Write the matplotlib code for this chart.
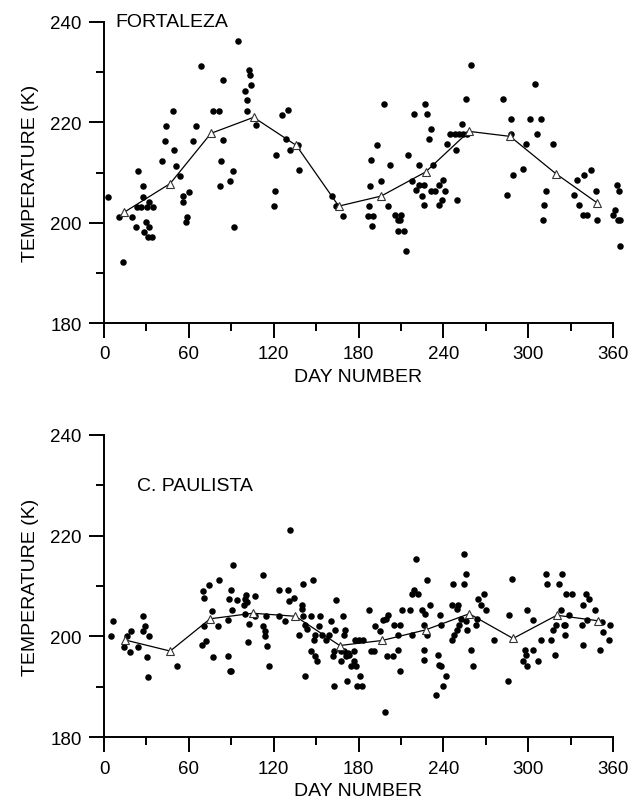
import numpy as np
import matplotlib
matplotlib.use('Agg')
import matplotlib.pyplot as plt

plt.rcParams['font.family'] = ['Liberation Sans', 'DejaVu Sans']

# Fortaleza - individual nights
fort_day = [2.6, 10.9, 13.7, 19.6, 22.7, 23.8, 27.4, 27.4, 26, 23.1, 30.2, 32.1, 34.9, 29.5, 31.9, 28.3, 30.9, 34.2,
            40.8, 43.0, 43.9, 48.9, 49.6, 50.8, 53.8, 55.7, 56.2, 60.2, 59.0, 57.9, 62.8, 65.2, 68.9,
            77.4, 81, 84.1, 84.1, 82.9, 82.2, 90.9, 89, 92.1, 94.9, 99.9, 101.1, 102.2, 103, 103.9, 101.1, 107.7,
            121.8, 120.7, 120, 125.9, 129.9, 128.9, 131.8, 137.2, 138.1,
            161.3, 164.3, 169, 197.9, 193.1, 188.9, 202.6, 196, 187.9, 187.3, 201, 186.5, 190.3, 189.6,
            206.1, 210.1, 207.7, 209.6, 207.9, 212, 213.9, 214.9, 219.1, 226.9, 228.1, 230.9, 229.8, 222.9,
            217.9, 232.6, 220.9, 222.6, 226.2, 225.2, 226.2, 230.9, 234, 236.9, 240, 241.1, 239.3, 236.9,
            242.7, 249.1, 249.8, 245, 248, 251, 254, 256.5, 253, 256.1, 259.4,
            282.2, 287.6, 285.3, 287.6, 289.5, 296.3, 298.2, 301.3, 304.6, 306.5, 308.9, 312.4, 311.2, 310.5,
            317.3, 332.4, 334.3, 335.9, 338.4, 341.9, 339.5, 344.3, 347.8, 348.5,
            362.7, 364.5, 361.1, 359.9, 363.4, 365, 365]
fort_temp = [205.1, 201.1, 192.1, 201.1, 199.2, 210.2, 207.3, 205.1, 203.1, 203.1, 203.1, 204.1, 203.1, 200.1, 199.2, 198.2, 197.1, 197.1,
             212.2, 216.3, 219.3, 222.3, 214.4, 211.3, 209.3, 205.3, 204.1, 206.2, 201.2, 200.1, 216.3, 219.3, 231.3,
             222.3, 222.3, 228.4, 216.4, 212.3, 207.3, 210.3, 208.3, 199.2, 236.3, 226.3, 224.4, 230.4, 229.4, 227.4, 222.3, 219.4,
             213.4, 206.3, 203.3, 221.4, 222.4, 216.6, 214.5, 215.4, 210.4,
             205.3, 203.3, 201.3, 223.6, 215.5, 212.5, 211.5, 208.4, 207.4, 203.3, 203.3, 201.3, 201.3, 199.4,
             201.5, 201.5, 200.5, 200.5, 198.4, 198.4, 194.4, 213.5, 221.7, 223.7, 221.6, 218.6, 216.6, 211.5,
             208.4, 211.5, 206.5, 207.5, 207.5, 205.4, 203.5, 206.4, 206.4, 207.5, 208.5, 206.4, 204.5, 203.5,
             215.6, 214.5, 204.5, 217.6, 217.6, 217.6, 217.6, 217.6, 219.6, 224.7, 231.5,
             224.7, 220.7, 205.5, 217.6, 209.5, 210.6, 215.6, 220.7, 227.6, 217.6, 220.7, 206.4, 203.5, 200.5,
             215.6, 205.5, 208.5, 203.5, 201.5, 201.5, 209.5, 210.5, 206.4, 200.5,
             207.5, 206.4, 202.5, 201.5, 200.5, 200.5, 195.4]

# Fortaleza - monthly means
fort_mday = [14.4, 46.8, 75.6, 105.8, 136, 166, 196, 227.4, 258.1, 287.2, 319.4, 349]
fort_mtemp = [202.1, 207.8, 217.8, 221.0, 215.4, 203.3, 205.3, 210.1, 218.2, 217.2, 209.8, 203.9]

# Cachoeira Paulista - individual nights
cp_day = [6.1, 5.0, 16.1, 19.1, 14.2, 18.4, 24.3, 27.9, 29.0, 27.4, 32.1, 30.2, 31.4, 51.5,
          69.9, 73.9, 81.0, 76.3, 70.4, 80.3, 69.2, 72.3, 77.4, 87.6, 88.8, 70.8,
          131.3, 90.9, 112.4, 147.6, 140.7, 90.0, 123.5, 130.1, 88.6, 94.0, 99.4, 100.4, 106.5, 134.6, 130.6,
          98.7, 100.8, 139.7, 90.4, 139.7, 164.3, 87.6, 99.9, 106.9, 114.5, 123.5, 128.2, 140.4, 146.6, 152.5,
          169.1, 160.6, 102.2, 112.4, 113.6, 113.6, 141.9, 143.5, 151.8, 138.1, 149.0, 154.2, 158.9, 163.6,
          170.3, 169.5, 148.3, 157.3, 101.5, 115.5, 146.6, 162.4, 167.5, 170, 172.5, 173.5, 171, 148.9, 150.6,
          161.7, 167.9, 175, 89.5, 116.4, 142.4, 162.4, 171.8,
          198.6, 254.5, 220.3, 255.7, 228.5, 246.5, 254.5, 219.3, 218.1, 222.0, 264.7, 230.2, 246.3, 250.3,
          249.4, 187.5, 210.4, 216.3, 224.6, 226.7, 237.3, 200.9, 197.2, 199.3, 252.2, 255.7, 263.5, 191.3,
          205.0, 209.0, 226.2, 238.5, 251.0, 262.8, 195.5, 207.6, 249.9, 217.9, 228.5, 247.5, 256.4,
          177.8, 180.1, 183.2, 176.6, 188.9, 190.8, 200.2, 204.5, 207.8, 226.5, 226.5, 235.9, 236.8, 238.5,
          246.3, 259.7, 260.7, 176.6, 178.5, 181.3, 179, 182.5, 209.6, 241.6, 240, 234.5,
          288.8, 312.9, 323.7, 313.6, 321.9, 327.0, 330.8, 340.8, 343.1, 338.9, 268.7, 266.4, 270.0, 299.4,
          346.9, 323.0, 286.4, 329.0, 303.4, 341.9, 352.1, 358.0, 338, 319.5, 325, 326.1, 317.6, 353, 325.9,
          275.8, 308.9, 316.0, 357.2, 339.0, 350.7, 319.0, 297.7, 303.4, 298.2, 296.3, 307, 299.2, 285.7]
cp_temp = [203.0, 200.0, 200.0, 201.0, 198.0, 197.0, 198.0, 204.0, 202.0, 201.0, 200.0, 196.0, 192.0, 194.1,
           209.1, 210.1, 211.1, 205.0, 202.1, 202.1, 198.4, 199.0, 196.0, 196.2, 193.1, 207.6,
           221.2, 214.2, 212.2, 211.2, 210.4, 209.2, 209.2, 209.2, 207.5, 207.2, 207.5, 208.2, 208.1, 207.7, 207.1,
           206.2, 206.9, 206.2, 205.3, 205.4, 207.2, 203.3, 204.5, 204.1, 204.1, 204.1, 203.1, 204.1, 204.1, 204.1,
           204.1, 203.1, 202.5, 202.1, 201.1, 200.1, 202.3, 201.5, 202.1, 200.3, 200.3, 200.3, 200.3, 201.3,
           201.3, 200.3, 199.2, 199.2, 198.8, 198.2, 197.2, 197.2, 197.2, 197.2, 196.8, 196.4, 196.2, 196.2, 195.2,
           196.2, 195.2, 194.2, 193.1, 194.1, 192.2, 190.1, 191.1,
           185.1, 216.4, 215.3, 212.3, 211.2, 210.4, 210.4, 209.2, 208.4, 208.4, 207.4, 206.3, 206.3, 206.3,
           205.4, 205.3, 205.3, 205.3, 205.3, 204.5, 204.3, 204.3, 203.3, 203.4, 203.4, 203.1, 203.4, 202.1,
           202.2, 202.2, 202.2, 202.2, 202.2, 202.2, 201.1, 200.3, 201.3, 200.3, 200.3, 200.3, 201.3,
           199.3, 199.3, 199.3, 197.2, 197.2, 197.2, 196.2, 196.2, 197.3, 197.3, 195.3, 196.3, 194.3, 194.2,
           199.3, 197.3, 194.2, 195.2, 194.2, 192.2, 190.2, 190.2, 193.2, 192.2, 190.2, 188.3,
           211.4, 212.4, 212.4, 210.4, 210.4, 208.4, 208.4, 208.4, 207.4, 206.3, 208.4, 206.3, 205.3, 205.3,
           205.3, 205.3, 204.3, 204.3, 203.3, 203.3, 202.8, 202.3, 202.2, 202.2, 202.2, 202.2, 201.3, 200.8, 200.3,
           199.3, 199.3, 199.3, 199.3, 198.3, 197.3, 196.3, 197.3, 197.3, 196.3, 195.2, 195.2, 194.2, 191.1]

# Cachoeira Paulista - monthly means
cp_mday = [14.9, 46.8, 75.1, 105.3, 135.3, 166.7, 196.7, 227.4, 258.3, 289.3, 320.2, 349.7]
cp_mtemp = [199.3, 197.1, 203.5, 204.6, 204.0, 198.2, 199.2, 201.3, 204.5, 199.6, 204.2, 203.1]

fig = plt.figure(figsize=(6.3, 8.04), dpi=100)
ax1 = fig.add_axes([0.1651, 0.597, 0.808, 0.3744])
ax2 = fig.add_axes([0.1651, 0.0817, 0.808, 0.3764])

panels = [(ax1, fort_day, fort_temp, fort_mday, fort_mtemp, 'FORTALEZA', 7.8, 240),
          (ax2, cp_day, cp_temp, cp_mday, cp_mtemp, 'C. PAULISTA', 23.4, 230)]

for ax, d, t, md, mt, name, tx, ty in panels:
    ax.scatter(d, t, s=22, color='black', linewidths=0, clip_on=False, zorder=2)
    ax.plot(md, mt, color='black', linewidth=0.9, zorder=3)
    ax.plot(md, mt, linestyle='none', marker='^', markersize=5.5, markerfacecolor='white',
            markeredgecolor='#333333', markeredgewidth=0.8, zorder=4)
    ax.set_xlim(0, 360)
    ax.set_ylim(180, 240)
    ax.set_xticks(np.arange(0, 361, 60))
    ax.set_xticks(np.arange(30, 360, 60), minor=True)
    ax.set_yticks([180, 200, 220, 240])
    ax.set_yticks([190, 210, 230], minor=True)
    for s in ['top', 'right']:
        ax.spines[s].set_visible(False)
    for s in ['left', 'bottom']:
        ax.spines[s].set_linewidth(1.4)
    ax.tick_params(which='major', direction='out', length=11, width=1.4, labelsize=13.5, pad=5)
    ax.tick_params(which='minor', direction='out', length=6, width=1.4)
    ax.set_xlabel('DAY NUMBER', fontsize=14, labelpad=4)
    ax.set_ylabel('TEMPERATURE (K)', fontsize=14, labelpad=8)
    ax.text(tx, ty, name, fontsize=14, va='center', ha='left')

fig.savefig('out.png', dpi=100)
